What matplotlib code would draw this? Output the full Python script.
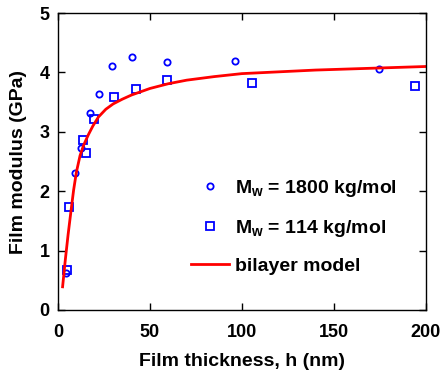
#!/usr/bin/env python3
#
# Film modulus vs. film thickness with bilayer model
#

import numpy as np
import matplotlib.pyplot as plt

plt.rcParams['font.family'] = 'Liberation Sans'
plt.rcParams['font.weight'] = 'bold'
plt.rcParams['mathtext.fontset'] = 'custom'
plt.rcParams['mathtext.rm'] = 'Liberation Sans:bold'
plt.rcParams['mathtext.bf'] = 'Liberation Sans:bold'
plt.rcParams['mathtext.default'] = 'bf'

# Mw = 1800 kg/mol (circles)
h_1800 = [4.6, 9.4, 12.5, 17.4, 22.3, 29.3, 40.2, 59.1, 96.2, 174.5]
E_1800 = [0.62, 2.30, 2.72, 3.31, 3.63, 4.10, 4.26, 4.17, 4.19, 4.05]

# Mw = 114 kg/mol (squares)
h_114 = [4.7, 6.0, 13.8, 15.0, 19.7, 30.3, 42.4, 59.4, 105.6, 194.0]
E_114 = [0.68, 1.73, 2.86, 2.65, 3.21, 3.58, 3.72, 3.87, 3.83, 3.78]

# bilayer model curve
h_model = [2.5, 4, 5.5, 7, 8.5, 10, 12, 14, 16.5, 19, 22, 26, 30, 35, 40,
           50, 60, 70, 85, 100, 120, 140, 160, 180, 200]
E_model = [0.39, 0.85, 1.27, 1.65, 2.02, 2.32, 2.60, 2.78, 2.95, 3.10, 3.25,
           3.38, 3.47, 3.55, 3.62, 3.73, 3.81, 3.87, 3.93, 3.98, 4.01, 4.04,
           4.06, 4.08, 4.10]

fig = plt.figure(figsize=(4.41, 3.73), dpi=100)
ax = fig.add_axes([0.1315, 0.169, 0.834, 0.796])

ax.plot(h_1800, E_1800, 'o', color='blue', mfc='none', ms=4.5, mew=1.3,
        label=r'M$_w$ = 1800 kg/mol')
ax.plot(h_114, E_114, 's', color='blue', mfc='none', ms=5.5, mew=1.3,
        label=r'M$_w$ = 114 kg/mol')
ax.plot(h_model, E_model, '-', color='red', lw=2, label='bilayer model')

ax.set_xlim(0, 200)
ax.set_ylim(0, 5)
ax.set_xticks([0, 50, 100, 150, 200])
ax.set_yticks([0, 1, 2, 3, 4, 5])
ax.tick_params(direction='in', top=True, right=True, length=5, width=1,
               labelsize=13, pad=6)
ax.tick_params(axis='x', pad=10)
for s in ax.spines.values():
	s.set_linewidth(1)

ax.set_xlabel('Film thickness, h (nm)', fontsize=14, fontweight='bold', labelpad=9)
ax.set_ylabel('Film modulus (GPa)', fontsize=14, fontweight='bold', labelpad=9)

leg = ax.legend(loc='lower right', bbox_to_anchor=(0.97, 0.06), frameon=False,
                fontsize=14, labelspacing=0.95, handlelength=2.0,
                handletextpad=0.3)

plt.savefig('out.png', dpi=100)
